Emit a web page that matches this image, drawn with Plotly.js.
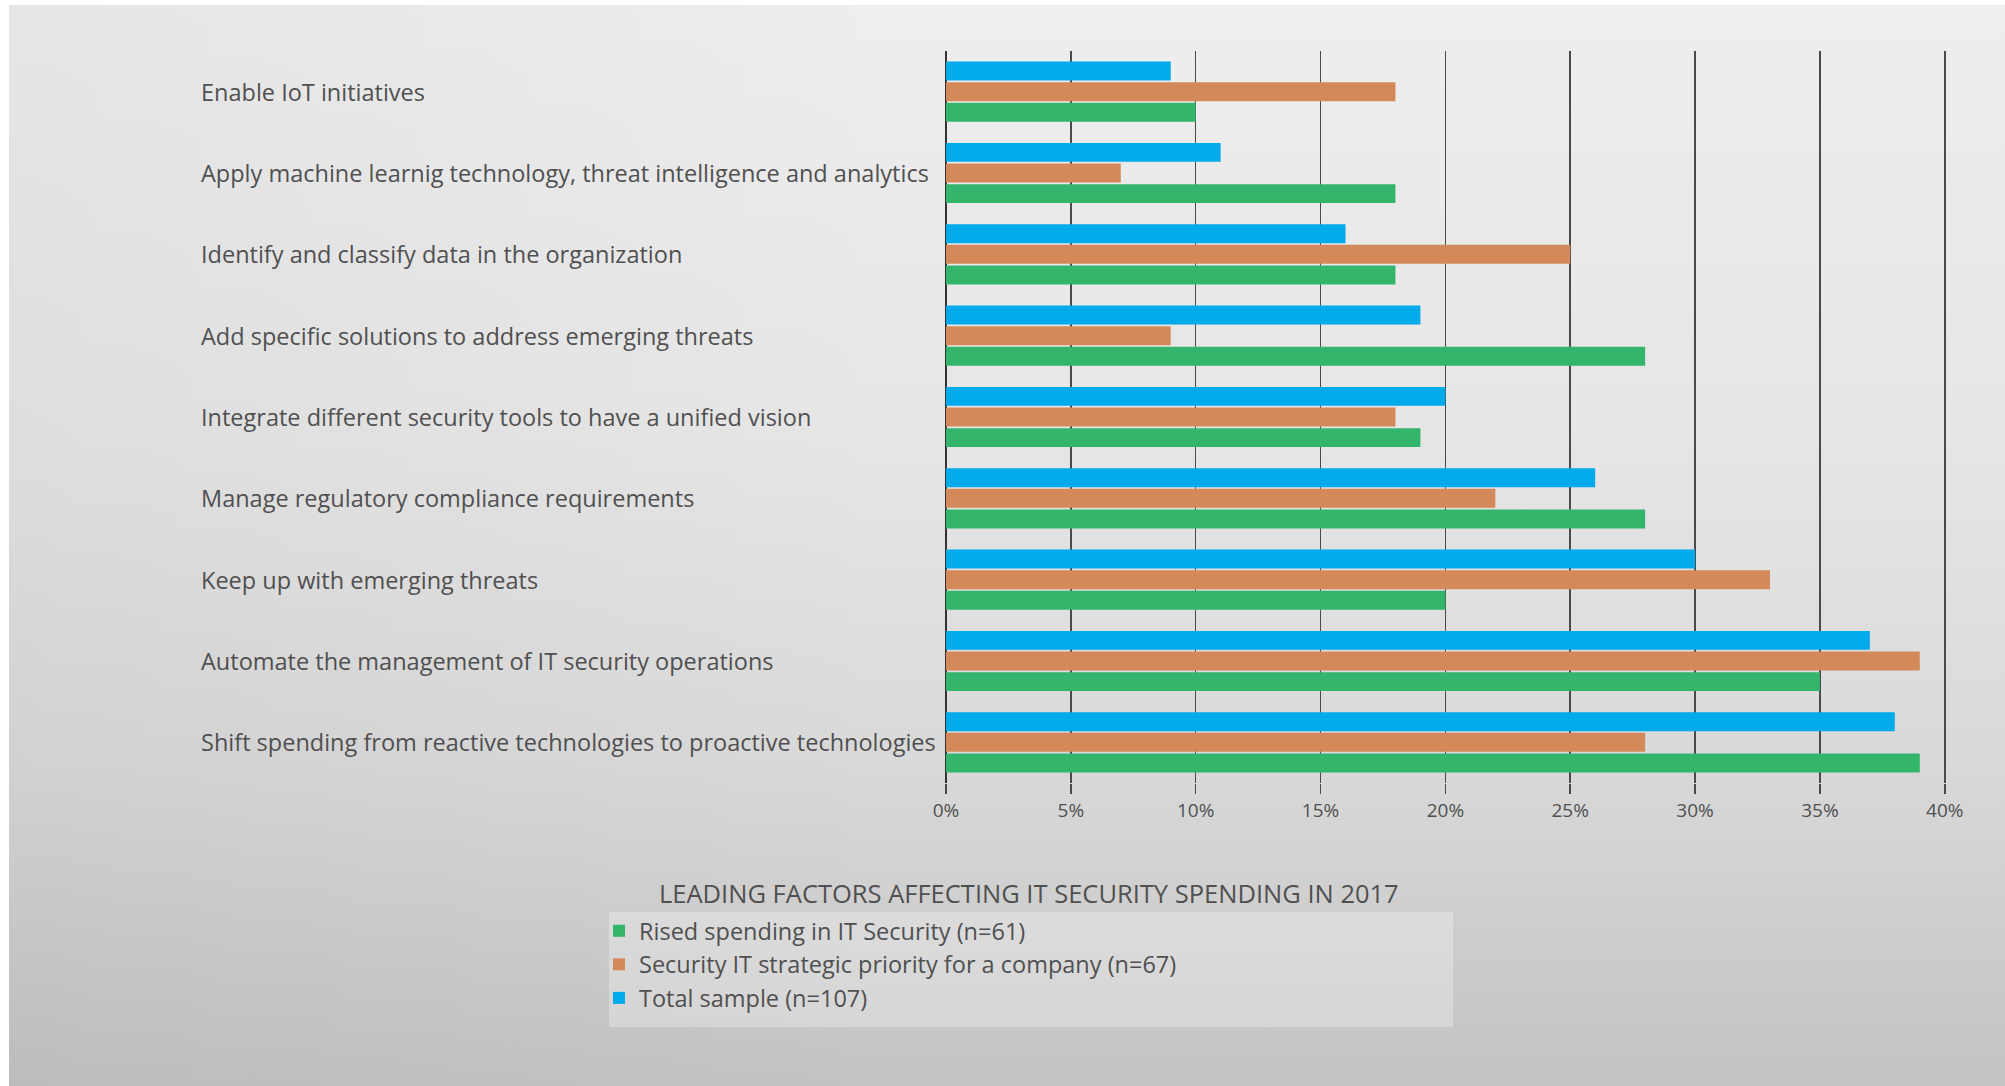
<!DOCTYPE html>
<html>
<head>
<meta charset="utf-8">
<script src="https://cdn.plot.ly/plotly-3.0.1.min.js"></script>
<style>
  html, body { margin: 0; padding: 0; background: #ffffff; }
  #bg {
    position: absolute; left: 9px; top: 5px; width: 1996px; height: 1081px;
    background:
      linear-gradient(to right, rgba(0,0,0,0.035) 0%, rgba(0,0,0,0) 45%),
      linear-gradient(to bottom, #eeeeee 0%, #e6e6e6 40%, #d9d9d9 70%, #c3c3c3 100%);
  }
  #chart { position: absolute; left: 0; top: 0; width: 2005px; height: 1086px; }
</style>
</head>
<body>
<div id="bg"></div>
<div id="chart"></div>
<script>
// Categories, read top to bottom as in the reference
const categories = [
  "Enable IoT initiatives",
  "Apply machine learnig technology, threat intelligence and analytics",
  "Identify and classify data in the organization",
  "Add specific solutions to address emerging threats",
  "Integrate different security tools to have a unified vision",
  "Manage regulatory compliance requirements",
  "Keep up with emerging threats",
  "Automate the management of IT security operations",
  "Shift spending from reactive technologies to proactive technologies"
];

const seriesNames = [
  "Rised spending in IT Security (n=61)",
  "Security IT strategic priority for a company (n=67)",
  "Total sample (n=107)"
];

// Values in percent, same order as categories
const risedSpending   = [10, 18, 18, 28, 19, 28, 20, 35, 39];
const strategicPrio   = [18,  7, 25,  9, 18, 22, 33, 39, 28];
const totalSample     = [ 9, 11, 16, 19, 20, 26, 30, 37, 38];

const tickVals  = [0, 5, 10, 15, 20, 25, 30, 35, 40];
const tickTexts = ["0%", "5%", "10%", "15%", "20%", "25%", "30%", "35%", "40%"];

const chartTitle = "LEADING FACTORS AFFECTING IT SECURITY SPENDING IN 2017";

const colors = ["#33b66c", "#d4895a", "#00aaeb"];
const FONT = "Open Sans, Noto Sans, sans-serif";
const TEXT = "#505050";

const seriesValues = [risedSpending, strategicPrio, totalSample];
const traces = seriesValues.map((vals, i) => ({
  type: "bar",
  orientation: "h",
  name: seriesNames[i],
  legendgroup: "g" + i,
  x: vals,
  y: categories,
  marker: { color: colors[i] },
  hoverinfo: "x+y+name"
}));

// Plot area geometry (px) for paper-coordinate helpers
const L = 946, R = 1946, T = 51, B = 783;
const W = 2005, H = 1086;
const px = v => (v - L) / (R - L);
const py = v => (B - v) / (B - T);

const labelAnnotations = categories.map(c => ({
  xref: "paper", yref: "y", x: px(199), y: c,
  xanchor: "left", yanchor: "middle",
  text: c, showarrow: false,
  font: { family: FONT, size: 23.5, color: TEXT }
}));

const layout = {
  width: W, height: H,
  paper_bgcolor: "rgba(0,0,0,0)",
  plot_bgcolor: "rgba(0,0,0,0)",
  margin: { l: L, r: W - R, t: T, b: H - B, pad: 0 },
  barmode: "group",
  bargap: 0.24,
  bargroupgap: 0.08,
  showlegend: true,
  font: { family: FONT, color: TEXT },
  xaxis: {
    range: [0, 40.05],
    tickvals: tickVals, ticktext: tickTexts,
    showgrid: true, gridcolor: "#4a4a4a", gridwidth: 1.5,
    zeroline: true, zerolinecolor: "#333333", zerolinewidth: 2,
    ticks: "outside", ticklen: 10, tickcolor: "#4a4a4a", tickwidth: 1.5,
    showline: false,
    tickfont: { family: FONT, size: 19, color: TEXT },
    fixedrange: true
  },
  yaxis: {
    categoryorder: "array",
    categoryarray: categories.slice().reverse(),
    showticklabels: false, showgrid: false, zeroline: false,
    ticks: "", showline: false, fixedrange: true
  },
  legend: {
    x: px(599), y: py(909), xanchor: "left", yanchor: "top",
    orientation: "v",
    traceorder: "grouped",
    tracegroupgap: 0,
    itemwidth: 30,
    bgcolor: "rgba(0,0,0,0)",
    font: { family: FONT, size: 23.5, color: TEXT }
  },
  shapes: [{
    type: "rect", xref: "paper", yref: "paper",
    x0: px(609), x1: px(1453), y0: py(1027), y1: py(912),
    fillcolor: "rgba(255,255,255,0.28)", line: { width: 0 }, layer: "above"
  }],
  annotations: labelAnnotations.concat([{
    xref: "paper", yref: "paper", x: px(1029), y: py(893),
    xanchor: "center", yanchor: "middle",
    text: chartTitle, showarrow: false,
    font: { family: FONT, size: 25.5, color: TEXT }
  }])
};

Plotly.newPlot("chart", traces, layout, { displayModeBar: false, staticPlot: true });
</script>
</body>
</html>
